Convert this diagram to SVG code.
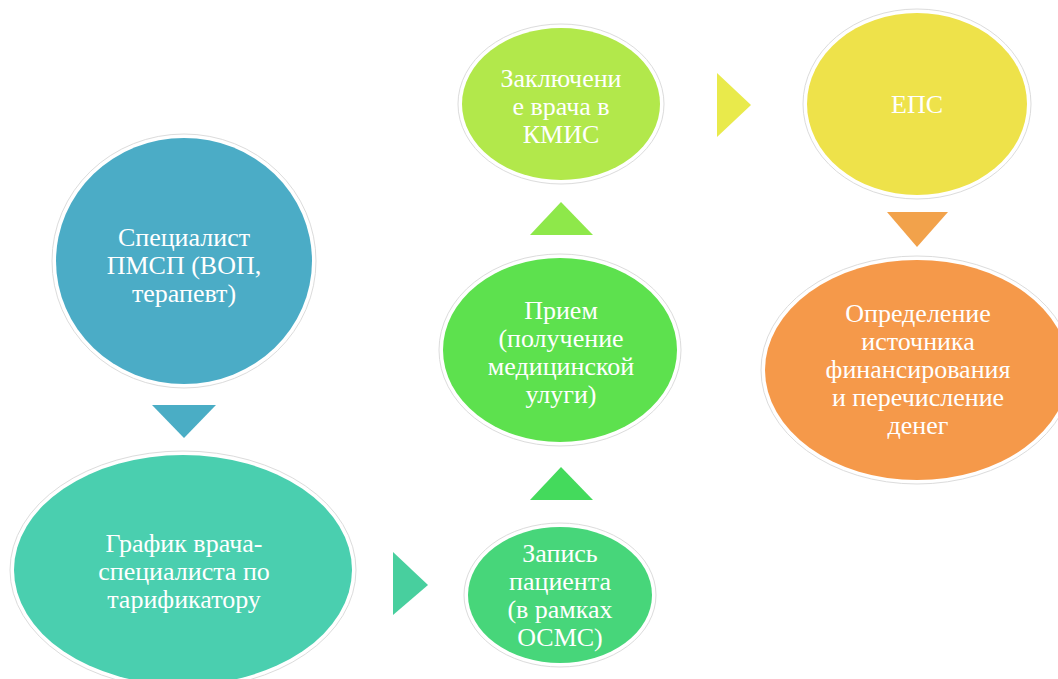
<svg xmlns="http://www.w3.org/2000/svg" width="1058" height="679" viewBox="0 0 1058 679">
<style>
.halo{fill:#ffffff;stroke:#dcdcdc;stroke-width:1}
.t{font-family:"Liberation Serif","Times New Roman",serif;font-size:26px;fill:#ffffff;text-anchor:middle}
</style>
<rect width="1058" height="679" fill="#ffffff"/>
<g id="connectors">
<polygon points="152,405 216,405 184,438" fill="#4AADC5"/>
<polygon points="393,552 428,585 393,615" fill="#48CF9E"/>
<polygon points="530,500 593,500 561,467" fill="#44DA5C"/>
<polygon points="530,235 593,235 561,202" fill="#8EE84A"/>
<polygon points="717,73 751,105 717,137" fill="#E9EA4B"/>
<polygon points="887,212 948,212 917,247" fill="#F2A24B"/>
</g>
<g id="n1">
<ellipse class="halo" cx="184" cy="261" rx="132" ry="127"/>
<ellipse cx="184" cy="261" rx="128" ry="123" fill="#4BACC6"/>
<text class="t" x="184" y="246">Специалист</text>
<text class="t" x="184" y="274">ПМСП (ВОП,</text>
<text class="t" x="184" y="302">терапевт)</text>
</g>
<g id="n2">
<ellipse class="halo" cx="183" cy="570" rx="173" ry="119"/>
<ellipse cx="183" cy="570" rx="169" ry="115" fill="#4ACFAF"/>
<text class="t" x="184" y="552">График врача-</text>
<text class="t" x="184" y="580">специалиста по</text>
<text class="t" x="184" y="608">тарификатору</text>
</g>
<g id="n3">
<ellipse class="halo" cx="560" cy="595" rx="96" ry="72"/>
<ellipse cx="560" cy="595" rx="92" ry="68" fill="#47D67A"/>
<text class="t" x="560" y="562">Запись</text>
<text class="t" x="560" y="590">пациента</text>
<text class="t" x="560" y="618">(в рамках</text>
<text class="t" x="560" y="646">ОСМС)</text>
</g>
<g id="n4">
<ellipse class="halo" cx="560" cy="350" rx="121" ry="96"/>
<ellipse cx="560" cy="350" rx="117" ry="92" fill="#5DE14E"/>
<text class="t" x="561" y="319">Прием</text>
<text class="t" x="561" y="347">(получение</text>
<text class="t" x="561" y="375">медицинской</text>
<text class="t" x="561" y="403">улуги)</text>
</g>
<g id="n5">
<ellipse class="halo" cx="561" cy="104" rx="103" ry="80"/>
<ellipse cx="561" cy="104" rx="99" ry="76" fill="#B2E84B"/>
<text class="t" x="561" y="87">Заключени</text>
<text class="t" x="561" y="115">е врача в</text>
<text class="t" x="561" y="143">КМИС</text>
</g>
<g id="n6">
<ellipse class="halo" cx="917" cy="104" rx="114" ry="95"/>
<ellipse cx="917" cy="104" rx="110" ry="91" fill="#EEE24A"/>
<text class="t" x="917" y="113">ЕПС</text>
</g>
<g id="n7">
<ellipse class="halo" cx="917" cy="370" rx="156" ry="114"/>
<ellipse cx="917" cy="370" rx="152" ry="110" fill="#F5994A"/>
<text class="t" x="918" y="322">Определение</text>
<text class="t" x="918" y="350">источника</text>
<text class="t" x="918" y="378">финансирования</text>
<text class="t" x="918" y="406">и перечисление</text>
<text class="t" x="918" y="434">денег</text>
</g>
</svg>
